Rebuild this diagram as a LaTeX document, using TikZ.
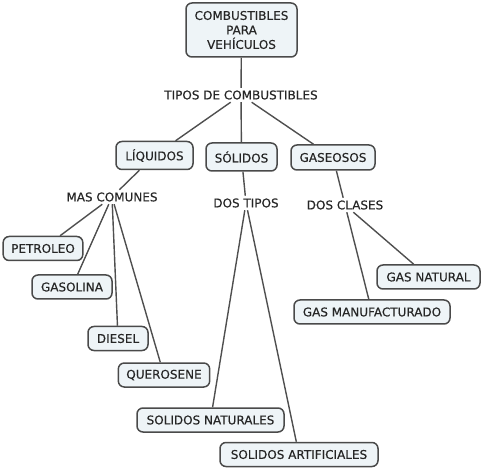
\documentclass[tikz,border=0pt]{standalone}
\usepackage{fontspec}
\setmainfont{DejaVu Sans}
\newfontfamily\mapfont{DejaVu Sans}[FakeBold=0.4]
\definecolor{boxfill}{HTML}{EEF4F7}
\definecolor{boxline}{HTML}{4A4A4A}
\definecolor{txt}{HTML}{262626}
\definecolor{lnk}{HTML}{4F4F4F}
\begin{document}
\begin{tikzpicture}[x=1pt,y=-1pt,
  concept/.style={draw=boxline, line width=1.5pt, fill=boxfill, rounded corners=6pt,
    inner xsep=8pt, inner ysep=0pt, minimum height=24pt, text=txt,
    font=\mapfont\fontsize{12}{14.5}\selectfont},
  linkph/.style={inner sep=2.5pt, text=txt, font=\mapfont\fontsize{12}{14}\selectfont},
  conn/.style={draw=lnk, line width=1.4pt}]
\useasboundingbox (0,0) rectangle (485,473);
% concepts
\node[concept, align=center, minimum width=111pt, minimum height=54pt] (top) at (241.5,30) {COMBUSTIBLES\\PARA\\VEHÍCULOS};
\node[concept, minimum width=77pt, minimum height=28pt] (liq) at (154.5,155.5) {LÍQUIDOS};
\node[concept, minimum width=71pt, minimum height=28pt] (sol) at (241.5,157) {SÓLIDOS};
\node[concept, minimum width=84pt, minimum height=25pt] (gas) at (333,157.5) {GASEOSOS};
\node[concept, minimum width=78pt] (pet) at (43,248.5) {PETROLEO};
\node[concept, minimum width=80pt] (gsl) at (72,287) {GASOLINA};
\node[concept, minimum width=60pt] (die) at (118,338.5) {DIESEL};
\node[concept, minimum width=90pt] (que) at (164,375) {QUEROSENE};
\node[concept, minimum width=147pt] (snat) at (210.5,420) {SOLIDOS NATURALES};
\node[concept, minimum width=158pt] (sart) at (299,454.5) {SOLIDOS ARTIFICIALES};
\node[concept, minimum width=156pt] (gman) at (372,312) {GAS MANUFACTURADO};
\node[concept, minimum width=103pt] (gnat) at (428.5,277) {GAS NATURAL};
% linking phrases
\node[linkph] (tipos) at (241,95) {TIPOS DE COMBUSTIBLES};
\node[linkph] (mas) at (112,197) {MAS COMUNES};
\node[linkph] (dtipos) at (246,203) {DOS TIPOS};
\node[linkph] (dclases) at (345,205) {DOS CLASES};
% connectors
\draw[conn] (top) -- (tipos);
\draw[conn] (tipos) -- (liq);
\draw[conn] (tipos) -- (sol);
\draw[conn] (tipos) -- (gas);
\draw[conn] (liq) -- (mas);
\draw[conn] (mas) -- (pet);
\draw[conn] (mas) -- (gsl);
\draw[conn] (mas) -- (die);
\draw[conn] (mas) -- (que);
\draw[conn] (sol) -- (dtipos);
\draw[conn] (dtipos) -- (snat);
\draw[conn] (dtipos) -- (sart);
\draw[conn] (gas) -- (dclases);
\draw[conn] (dclases) -- (gman);
\draw[conn] (dclases) -- (gnat);
\end{tikzpicture}
\end{document}
